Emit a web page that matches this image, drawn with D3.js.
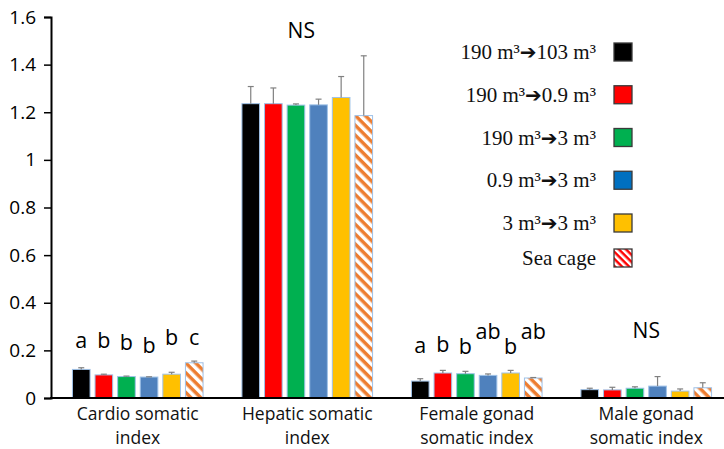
<!DOCTYPE html>
<html>
<head>
<meta charset="utf-8">
<script src="https://cdn.jsdelivr.net/npm/d3@7"></script>
<style>
  html, body { margin: 0; padding: 0; background: #ffffff; }
  svg { display: block; }
</style>
</head>
<body>
<svg id="chart" width="724" height="449"></svg>
<script>
// Organ somatic indices by rearing history
const categories = ["Cardio somatic index", "Hepatic somatic index", "Female gonad somatic index", "Male gonad somatic index"];
const categoryLines = [["Cardio somatic", "index"], ["Hepatic somatic", "index"], ["Female gonad", "somatic index"], ["Male gonad", "somatic index"]];
const seriesNames = ["190 m³→103 m³", "190 m³→0.9 m³", "190 m³→3 m³", "0.9 m³→3 m³", "3 m³→3 m³", "Sea cage"];

// mean per category, one array per series
const s190to103 = [0.120, 1.236, 0.071, 0.035];
const s190to09  = [0.097, 1.236, 0.105, 0.034];
const s190to3   = [0.090, 1.230, 0.102, 0.041];
const s09to3    = [0.088, 1.231, 0.095, 0.050];
const s3to3     = [0.100, 1.262, 0.105, 0.029];
const sSeaCage  = [0.148, 1.186, 0.084, 0.043];

// standard error per category
const e190to103 = [0.007, 0.072, 0.010, 0.006];
const e190to09  = [0.003, 0.066, 0.011, 0.011];
const e190to3   = [0.002, 0.005, 0.010, 0.006];
const e09to3    = [0.001, 0.024, 0.006, 0.040];
const e3to3     = [0.008, 0.088, 0.011, 0.009];
const eSeaCage  = [0.007, 0.251, 0.002, 0.021];

// significance letters; "NS" is drawn above the non-significant groups
const cardioLetters = ["a", "b", "b", "b", "b", "c"];
const femaleLetters = ["a", "b", "b", "ab", "b", "ab"];
const nsGroups = ["Hepatic somatic index", "Male gonad somatic index"];

const yTicks = [0, 0.2, 0.4, 0.6, 0.8, 1.0, 1.2, 1.4, 1.6];
const yTickLabels = ["0", "0.2", "0.4", "0.6", "0.8", "1", "1.2", "1.4", "1.6"];

const means = [s190to103, s190to09, s190to3, s09to3, s3to3, sSeaCage];
const errors = [e190to103, e190to09, e190to3, e09to3, e3to3, eSeaCage];

const barFill = ["#000000", "#ff0000", "#00b050", "#4f81bd", "#ffc000", "url(#hatchBar)"];
const legendFill = ["#000000", "#ff0000", "#00b050", "#0070c0", "#ffc000", "url(#hatchLegend)"];

const svg = d3.select("#chart");
const sansFont = "'Open Sans', 'DejaVu Sans', sans-serif";
const serifFont = "'Liberation Serif', 'DejaVu Serif', serif";

// diagonal hatch patterns, stripes running top-left to bottom-right
const defs = svg.append("defs");
function hatch(id, color, size) {
  const p = defs.append("pattern")
    .attr("id", id)
    .attr("patternUnits", "userSpaceOnUse")
    .attr("width", size).attr("height", size)
    .attr("patternTransform", "rotate(45)");
  p.append("rect").attr("width", size).attr("height", size).attr("fill", "#ffffff");
  p.append("rect").attr("x", 0).attr("y", 0).attr("width", size).attr("height", size / 2).attr("fill", color);
}
hatch("hatchBar", "#ed7d31", 7);
hatch("hatchLegend", "#ff0000", 5);

const x0 = d3.scaleBand().domain(categories).range([53, 731]).padding(0);
const x1 = d3.scaleBand().domain(d3.range(seriesNames.length)).range([0, x0.bandwidth()])
  .paddingInner(0.22).paddingOuter(0.86);
const y = d3.scaleLinear().domain([0, 1.6]).range([398, 17]);

// y axis
const yAxis = d3.axisLeft(y).tickValues(yTicks)
  .tickFormat((d, i) => yTickLabels[i]).tickSize(7).tickPadding(8);
const gy = svg.append("g").attr("transform", "translate(51,0)").call(yAxis);
gy.select(".domain").attr("stroke", "#000").attr("stroke-width", 2);
gy.selectAll(".tick line").attr("stroke", "#000").attr("stroke-width", 1.5);
gy.selectAll(".tick text").attr("font-family", sansFont).attr("font-size", 19).attr("fill", "#000");

// bars
const groups = svg.append("g").selectAll("g")
  .data(categories).join("g")
  .attr("transform", d => `translate(${x0(d)},0)`);

groups.each(function(cat, ci) {
  const g = d3.select(this);
  const rows = means.map((m, si) => ({ si, v: m[ci], e: errors[si][ci] }));
  g.selectAll("rect.bar").data(rows).join("rect")
    .attr("class", "bar")
    .attr("x", d => x1(d.si))
    .attr("y", d => y(d.v))
    .attr("width", x1.bandwidth())
    .attr("height", d => y(0) - y(d.v))
    .attr("fill", d => barFill[d.si])
    .attr("stroke", "#9fc2e8")
    .attr("stroke-width", 1);
  // upper error bars
  const eb = g.selectAll("g.err").data(rows).join("g").attr("class", "err")
    .attr("stroke", "#808080").attr("stroke-width", 1.2);
  eb.append("line")
    .attr("x1", d => x1(d.si) + x1.bandwidth() / 2)
    .attr("x2", d => x1(d.si) + x1.bandwidth() / 2)
    .attr("y1", d => y(d.v)).attr("y2", d => y(d.v + d.e));
  eb.append("line")
    .attr("x1", d => x1(d.si) + x1.bandwidth() / 2 - 3)
    .attr("x2", d => x1(d.si) + x1.bandwidth() / 2 + 3)
    .attr("y1", d => y(d.v + d.e)).attr("y2", d => y(d.v + d.e));
});

// x axis line
svg.append("line").attr("x1", 50).attr("x2", 724).attr("y1", y(0)).attr("y2", y(0))
  .attr("stroke", "#000").attr("stroke-width", 2);

// category labels (two lines)
svg.append("g").selectAll("text").data(categories).join("text")
  .attr("font-family", sansFont).attr("font-size", 17.5).attr("fill", "#111")
  .attr("text-anchor", "middle")
  .each(function(cat, ci) {
    const t = d3.select(this);
    const cx = x0(cat) + x0.bandwidth() / 2;
    categoryLines[ci].forEach((line, li) => {
      t.append("tspan").attr("x", cx).attr("y", 420 + li * 24).text(line);
    });
  });

// significance letters
const letterSets = [
  { cat: categories[0], letters: cardioLetters, lift: [0, 0, -2, -5, 3, 3], base: 348 },
  { cat: categories[2], letters: femaleLetters, lift: [0, 1, -1, 14, -1, 14], base: 353 }
];
letterSets.forEach(set => {
  svg.append("g").selectAll("text").data(set.letters).join("text")
    .attr("x", (d, i) => x0(set.cat) + x1(i) + x1.bandwidth() / 2)
    .attr("y", (d, i) => set.base - set.lift[i])
    .attr("text-anchor", "middle")
    .attr("font-family", sansFont).attr("font-size", 21.5).attr("fill", "#000")
    .text(d => d);
});
svg.append("g").selectAll("text").data(nsGroups).join("text")
  .attr("x", (d, i) => x0(d) + x0.bandwidth() / 2 - (i === 0 ? 6 : 0))
  .attr("y", (d, i) => i === 0 ? 38 : 338)
  .attr("text-anchor", "middle")
  .attr("font-family", sansFont).attr("font-size", 21).attr("fill", "#000")
  .text("NS");

// legend
const legendY = d3.scalePoint().domain(d3.range(5)).range([52, 223]);
const rowY = i => i < 5 ? legendY(i) : 258;
const legend = svg.append("g").selectAll("g").data(seriesNames).join("g")
  .attr("transform", (d, i) => `translate(0,${rowY(i)})`);
legend.append("rect")
  .attr("x", 614).attr("y", -9).attr("width", 18).attr("height", 18)
  .attr("fill", (d, i) => legendFill[i])
  .attr("stroke", "#3a3a3a").attr("stroke-width", 1.3);
legend.append("text")
  .attr("x", 596).attr("y", 7)
  .attr("text-anchor", "end")
  .attr("font-family", serifFont).attr("font-size", 21).attr("fill", "#111")
  .each(function(name) {
    const t = d3.select(this);
    const parts = name.split("→");
    t.append("tspan").text(parts[0]);
    if (parts.length > 1) {
      t.append("tspan").attr("font-family", "'DejaVu Sans', sans-serif")
        .attr("font-size", 20).text("➔");
      t.append("tspan").text(parts[1]);
    }
  });
</script>
</body>
</html>
